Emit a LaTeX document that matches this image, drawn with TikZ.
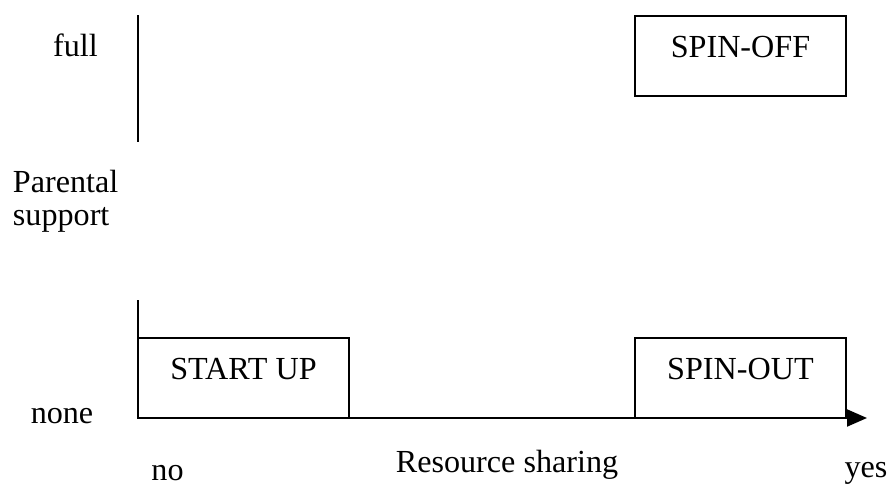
\documentclass[tikz,border=0pt]{standalone}
\usepackage{fontspec}
\setmainfont{Liberation Serif}
\usetikzlibrary{arrows.meta, positioning}

\tikzset{
  stage/.style={draw, line width=1.1pt, inner sep=0pt, outer sep=0pt,
    minimum width=4.22cm, text height=0.82cm, text depth=0.78cm, anchor=south west},
  lbl/.style={inner sep=0pt, anchor=base},
}

\begin{document}
\begin{tikzpicture}[x=0.02cm, y=0.02cm, line width=1.1pt,
    every node/.append style={font=\fontsize{18.3pt}{20pt}\selectfont}]
  \useasboundingbox (0,0) rectangle (890,485);
  \coordinate (origin) at (138,67);
  \coordinate (xend) at (867,67);
  \coordinate (ylow) at (138,185);
  \coordinate (ymid) at (138,343);
  \coordinate (ytop) at (138,470);

  \node[stage] (startup) at (origin) {START UP};
  \node[stage] (spinout) at (635,67) {SPIN-OUT};
  \node[stage] (spinoff) at (635,389) {SPIN-OFF};

  \node[lbl] (full) at (75.5,429) {full};
  \node[lbl, anchor=base west] (parental) at (12,293) {Parental};
  \node[lbl, anchor=base west] (support) at (12,260) {support};
  \node[lbl] (none) at (62,62) {none};
  \node[lbl] (no) at (167.5,5) {no};
  \node[lbl] (sharing) at (507,13) {Resource sharing};
  \node[lbl] (yes) at (866,8) {yes};

  \draw (ytop) -- (ymid);
  \draw (origin) -- (ylow);
  \draw[-{Triangle[length=0.4cm, width=0.34cm]}] (origin) -- (xend);
\end{tikzpicture}
\end{document}
